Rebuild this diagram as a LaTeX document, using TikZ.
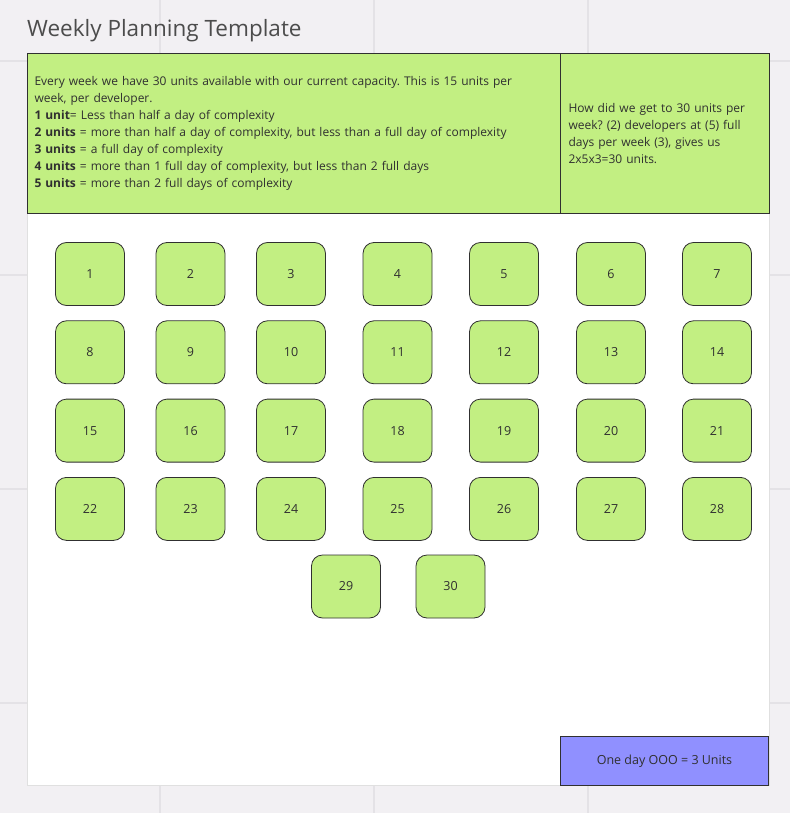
\documentclass[tikz,border=0pt]{standalone}
\usepackage{fontspec}
\setmainfont{Open Sans}
\frenchspacing
\definecolor{boardbg}{HTML}{F2F0F3}
\definecolor{boardgrid}{HTML}{E4E2E6}
\definecolor{unitgreen}{HTML}{C2EF82}
\definecolor{oooblue}{HTML}{9090FF}
\definecolor{inkgray}{HTML}{303030}
\begin{document}
\begin{tikzpicture}[x=1pt,y=-1pt]
% Estilos
\tikzset{unit box/.style={rectangle,draw=inkgray,line width=.8pt,fill=unitgreen,rounded corners=11pt,minimum width=69pt,minimum height=63pt,inner sep=0pt,text=inkgray,font=\fontsize{12.5}{14}\selectfont},
	note box/.style={rectangle,draw=inkgray,line width=1pt,fill=unitgreen,anchor=north west,inner xsep=7pt,inner ysep=0pt,align=left,text=inkgray,font=\fontsize{12}{17}\selectfont}}

% Fundo
\useasboundingbox (0,0) rectangle (790,813);
\fill[boardbg] (0,0) rectangle (790,813);
\foreach \x in {160,374,588}{
	\draw[boardgrid,line width=2pt] (\x,0) -- (\x,813);
}
\foreach \y in {61,275,489,703}{
	\draw[boardgrid,line width=2pt] (0,\y) -- (790,\y);
}
\fill[white] (27,53) rectangle (769,785);
\draw[black!12] (27,53) rectangle (769,785);

\node[anchor=base west,inner sep=0pt,text=black!70,font=\fontsize{22.5}{26}\selectfont] (title) at (27,37) {Weekly Planning Template};

% Notas
\node[note box,minimum width=533pt,minimum height=160pt,text width=519pt] (rules) at (27,53) {Every week we have 30 units available with our current capacity. This is 15 units per\\ week, per developer.\\ \textbf{1 unit}= Less than half a day of complexity\\ \textbf{2 units} = more than half a day of complexity, but less than a full day of complexity\\ \textbf{3 units} = a full day of complexity\\ \textbf{4 units} = more than 1 full day of complexity, but less than 2 full days\\ \textbf{5 units} = more than 2 full days of complexity};
\node[note box,inner xsep=8pt,minimum width=209pt,minimum height=160pt,text width=193pt] (capacity) at (560,53) {How did we get to 30 units per\\ week? (2) developers at (5) full\\ days per week (3), gives us\\ 2x5x3=30 units.};

% Unidades
\foreach \r in {0,...,3}{
	\foreach \c/\x in {1/90,2/190.5,3/291,4/397.5,5/504,6/611,7/717}{
		\pgfmathtruncatemacro\k{7*\r+\c}
		\node[unit box] (\k) at (\x,{274+78.3*\r}) {\k};
	}
}
\node[unit box] (29) at (346,586.5) {29};
\node[unit box] (30) at (450.5,586.5) {30};

\node[rectangle,draw=inkgray,line width=1pt,fill=oooblue,anchor=north west,minimum width=208pt,minimum height=49pt,text=inkgray,font=\fontsize{12.5}{14}\selectfont] (ooo) at (560,736) {One day OOO = 3 Units};

\end{tikzpicture}
\end{document}
